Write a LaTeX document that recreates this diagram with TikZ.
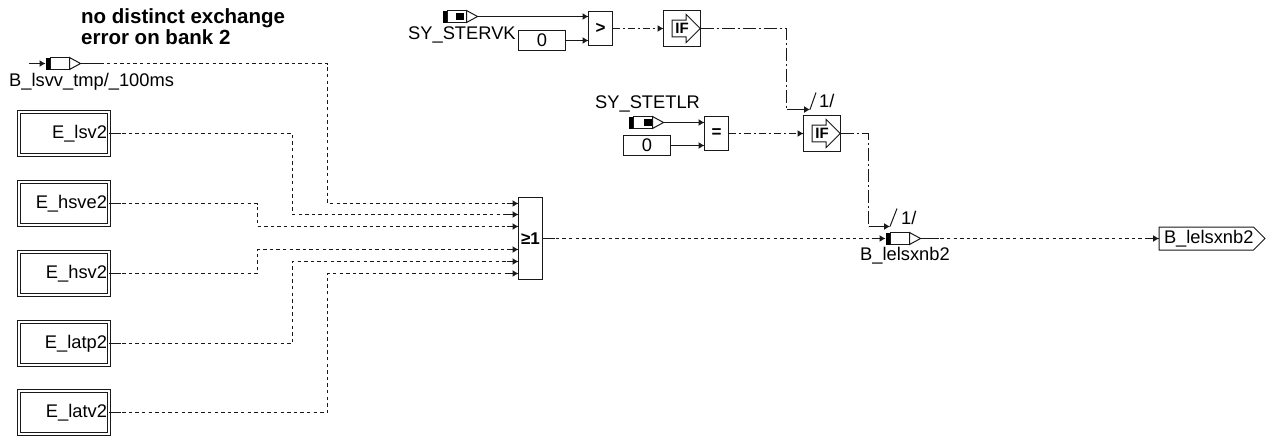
\documentclass[tikz,border=0pt]{standalone}
\usepackage{fontspec}
\setmainfont{Liberation Sans}
\usetikzlibrary{arrows.meta,positioning,shapes.symbols,shapes.arrows}
% input port: bar, body, open tip; the node #1 sits on the tip
\newcommand{\portsym}[3]{%
  \node[portbar] (#1bar) at (#2,#3) {};
  \node[portbody, right=0pt of #1bar] (#1body) {};
  \node[porttip, right=11pt of #1body.east, anchor=center] (#1) {};
  \draw[wire, fill=white] (#1body.north east) -- (#1.center) -- (#1body.south east) -- cycle;
}
\begin{document}
\begin{tikzpicture}[
  x=1pt, y=-1pt,
  wire/.style={line width=1pt, draw=black!90},
  dotwire/.style={wire, dash pattern=on 3.4pt off 3.2pt},
  dashdot/.style={wire, dash pattern=on 13pt off 3pt on 2pt off 3pt},
  dashdots/.style={wire, dash pattern=on 7pt off 3pt on 2pt off 3pt},
  tipwire/.style={wire, -{Latex[length=6pt,width=7pt]}},
  note/.style={font=\fontsize{18.3}{20}\selectfont, inner sep=0pt},
  title/.style={font=\fontsize{20.5}{21.5}\selectfont\bfseries, inner sep=0pt, align=left},
  eblock/.style={draw=black!90, line width=1pt, double, double distance=1.6pt, minimum width=90pt, minimum height=43pt, text width=86pt, align=right, inner sep=1pt, outer sep=0pt, font=\fontsize{18.3}{20}\selectfont},
  func/.style={draw=black!90, line width=1pt, minimum width=24pt, inner sep=0pt, outer sep=0pt, font=\fontsize{17}{20}\selectfont\bfseries},
  ifblock/.style={func, minimum width=37pt, minimum height=36pt},
  ifarrow/.style={draw=black!90, line width=0.9pt, single arrow, single arrow head extend=4.5pt, minimum width=28pt, minimum height=28pt, inner sep=1pt, font=\fontsize{15}{15}\selectfont\bfseries},
  constbox/.style={draw=black!90, line width=1pt, minimum width=47pt, minimum height=20pt, inner sep=0pt, outer sep=0pt, font=\fontsize{18.3}{20}\selectfont},
  portbar/.style={fill=black, minimum width=5pt, minimum height=12pt, inner sep=0pt, outer sep=0pt},
  portbody/.style={draw=black!90, line width=1pt, fill=white, minimum width=19pt, minimum height=12pt, inner sep=0pt, outer sep=0pt},
  porttip/.style={inner sep=0pt, outer sep=0pt, minimum size=0pt},
  inner/.style={fill=black, minimum width=8pt, minimum height=7.5pt, inner sep=0pt},
  outblock/.style={draw=black!90, line width=1pt, signal, signal to=east, signal pointer angle=90, minimum width=106pt, minimum height=23pt, inner sep=0pt, outer sep=0pt, font=\fontsize{18.3}{20}\selectfont}
]
\useasboundingbox (0,0) rectangle (1267,439);

\node[title, anchor=north west] (titlenote) at (81,8) {no distinct exchange\\error on bank 2};

% E blocks
\foreach \nm/\txt/\yy in {elsv/E\_lsv2/133.5,ehsve/E\_hsve2/203.5,ehsv/E\_hsv2/273.5,elatp/E\_latp2/343.5,elatv/E\_latv2/412.5} {
  \node[eblock] (\nm) at (64,\yy) {\txt};
}

% or block and its pins
\node[func, minimum height=82pt] (orblock) at (530.5,238.5) {≥1};
\foreach \nn/\yy in {1/203.5,2/214.5,3/226.5,4/249.5,5/261.5,6/273.5} {
  \coordinate (pin\nn) at (orblock.west |- 0,\yy);
}

% input on top left
\coordinate (bstart) at (29,63.5);
\portsym{blsvv}{48}{63.5}
\node[note, anchor=west] (blsvvlabel) at (9,82) {B\_lsvv\_tmp/\_100ms};
\draw[tipwire] (bstart) -- (blsvvbar.west);
\draw[dotwire] (blsvv.center) -- ++(247,0) |- (pin1);
\draw[wire] (blsvv.center) -- ++(20,0);

% wires into the or block
\foreach \from/\to/\xx in {elsv/pin2/183.5,ehsve/pin3/148.5,ehsv/pin4/148.5,elatp/pin5/183.5,elatv/pin6/218.5} {
  \draw[dotwire] (\from.east) -- ++(\xx,0) |- (\to);
  \draw[wire] (\from.east) -- ++(12,0);
}
\foreach \nn in {1,...,6} {
  \draw[tipwire] (pin\nn) ++(-12,0) -- (pin\nn);
}

% upper compare
\portsym{stervk}{445}{16.5}
\node[inner] (stervkdot) at (460,16.5) {};
\node[note, anchor=west] (stervklabel) at (408,35) {SY\_STERVK};
\node[constbox] (constgt) at (542,40.5) {0};
\node[func, minimum height=34pt] (gtblock) at (600.5,28.5) {>};
\draw[tipwire] (stervk.center) -- (gtblock.west |- stervk.center);
\draw[tipwire] (constgt.east) -- (gtblock.west |- constgt.east);

\node[ifblock] (ifone) at (682,28.5) {};
\node[ifarrow] (ifonearrow) at (682,28.5) {IF};
\draw[dashdots, -{Latex[length=6pt,width=7pt]}] (gtblock.east) -- (ifone.west);

% lower compare
\node[note, anchor=west] (stetlrlabel) at (595,104) {SY\_STETLR};
\portsym{stetlr}{631}{122.5}
\node[inner] (stetlrdot) at (647.5,122.5) {};
\node[constbox] (consteq) at (647,145.5) {0};
\node[func, minimum height=34pt] (eqblock) at (716.5,133.5) {=};
\draw[tipwire] (stetlr.center) -- (eqblock.west |- stetlr.center);
\draw[tipwire] (consteq.east) -- (eqblock.west |- consteq.east);

\node[ifblock] (iftwo) at (822,133.5) {};
\node[ifarrow] (iftwoarrow) at (822,133.5) {IF};
\draw[dashdots, -{Latex[length=6pt,width=7pt]}] (eqblock.east) -- (iftwo.west);

% first if into second if
\coordinate (bendone) at (786.5,109.5);
\coordinate (setone) at (810,109.5);
\draw[dashdot] (ifone.east) -| (bendone);
\draw[tipwire] (bendone) -- (setone);
\draw[wire] (setone) -- ++(6,-17);
\node[note, anchor=west] (setonelabel) at (819,101) {1/};

% output port
\portsym{bout}{888}{238.5}
\node[note, anchor=north] (boutlabel) at (905,247) {B\_lelsxnb2};
\coordinate (bendtwo) at (868.5,226.5);
\coordinate (settwo) at (890,226.5);
\draw[dashdot] (iftwo.east) -| (bendtwo);
\draw[tipwire] (bendtwo) -- (settwo);
\draw[wire] (settwo) -- ++(7,-18);
\node[note, anchor=west] (settwolabel) at (901,218) {1/};

\node[outblock, anchor=west] (boutblock) at (1159,238.5) {\hspace*{5pt}B\_lelsxnb2};
\draw[dotwire] (orblock.east) -- (boutbar.west);
\draw[wire] (orblock.east) -- ++(12,0);
\draw[tipwire] (boutbar.west) ++(-14,0) -- (boutbar.west);
\draw[dotwire] (bout.center) -- (boutblock.west);
\draw[wire] (bout.center) -- ++(18,0);
\draw[tipwire] (boutblock.west) ++(-12,0) -- (boutblock.west);
\end{tikzpicture}
\end{document}
